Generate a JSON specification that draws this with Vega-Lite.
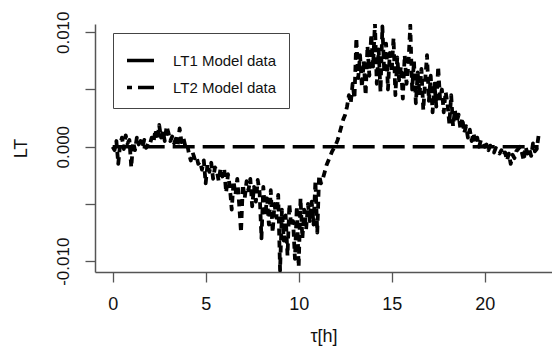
{
  "$schema": "https://vega.github.io/schema/vega-lite/v6.json",
  "width": 457,
  "height": 248,
  "autosize": {"type": "none"},
  "padding": {"left": 95, "top": 24, "right": 0, "bottom": 82},
  "background": "white",
  "config": {
    "view": {"stroke": null},
    "font": "Liberation Sans",
    "axis": {"grid": false, "domainColor": "#555", "tickColor": "#555", "labelColor": "#111", "titleColor": "#111", "titleFontWeight": "normal"}
  },
  "datasets": {
    "lt1": [{"t": 0, "v": 0}, {"t": 22.9, "v": 0}],
    "lt2": [
      {"t":0.0,"v":0},{"t":0.1,"v":-0.0003},{"t":0.2,"v":0.0005},{"t":0.3,"v":-0.0015},{"t":0.4,"v":0.0002},{"t":0.5,"v":0.0008},{"t":0.6,"v":-0.0002},{"t":0.7,"v":0.001},{"t":0.8,"v":0.0003},{"t":0.9,"v":0.0006},
      {"t":1.0,"v":-0.0018},{"t":1.1,"v":0.0004},{"t":1.2,"v":-0.0003},{"t":1.3,"v":0.0008},{"t":1.4,"v":0.0002},{"t":1.5,"v":0.0005},{"t":1.6,"v":0},{"t":1.7,"v":0.0006},{"t":1.8,"v":-0.0001},{"t":1.9,"v":0.0003},
      {"t":2.0,"v":0.0002},{"t":2.1,"v":0.0008},{"t":2.2,"v":0.0004},{"t":2.3,"v":0.0015},{"t":2.4,"v":0.0006},{"t":2.5,"v":0.0019},{"t":2.6,"v":0.0008},{"t":2.7,"v":0.0014},{"t":2.8,"v":0.0005},{"t":2.9,"v":0.0018},
      {"t":3.0,"v":0.0012},{"t":3.1,"v":0.0005},{"t":3.2,"v":0.0009},{"t":3.3,"v":0.0003},{"t":3.4,"v":0.0007},{"t":3.5,"v":0.0002},{"t":3.6,"v":0.0016},{"t":3.7,"v":0.0004},{"t":3.8,"v":0.0008},{"t":3.9,"v":0.0001},
      {"t":4.0,"v":0.0003},{"t":4.1,"v":-0.0006},{"t":4.2,"v":-0.0012},{"t":4.3,"v":-0.0005},{"t":4.4,"v":-0.001},{"t":4.5,"v":-0.0008},{"t":4.6,"v":-0.0015},{"t":4.7,"v":-0.0013},{"t":4.8,"v":-0.002},{"t":4.9,"v":-0.0012},
      {"t":5.0,"v":-0.0032},{"t":5.1,"v":-0.0015},{"t":5.2,"v":-0.0022},{"t":5.3,"v":-0.0014},{"t":5.4,"v":-0.0028},{"t":5.5,"v":-0.0018},{"t":5.6,"v":-0.0021},{"t":5.7,"v":-0.003},{"t":5.8,"v":-0.0019},{"t":5.9,"v":-0.0026},
      {"t":6.0,"v":-0.002},{"t":6.1,"v":-0.004},{"t":6.2,"v":-0.0024},{"t":6.3,"v":-0.0035},{"t":6.4,"v":-0.0055},{"t":6.5,"v":-0.003},{"t":6.6,"v":-0.0042},{"t":6.7,"v":-0.0028},{"t":6.8,"v":-0.005},{"t":6.9,"v":-0.0075},
      {"t":7.0,"v":-0.0033},{"t":7.1,"v":-0.0045},{"t":7.2,"v":-0.003},{"t":7.3,"v":-0.0038},{"t":7.4,"v":-0.0028},{"t":7.5,"v":-0.0052},{"t":7.6,"v":-0.0035},{"t":7.7,"v":-0.0048},{"t":7.8,"v":-0.0029},{"t":7.9,"v":-0.004},
      {"t":8.0,"v":-0.008},{"t":8.1,"v":-0.0035},{"t":8.2,"v":-0.006},{"t":8.3,"v":-0.0045},{"t":8.4,"v":-0.0068},{"t":8.5,"v":-0.0038},{"t":8.6,"v":-0.0075},{"t":8.7,"v":-0.005},{"t":8.8,"v":-0.0062},{"t":8.9,"v":-0.0042},
      {"t":9.0,"v":-0.0108},{"t":9.1,"v":-0.0055},{"t":9.2,"v":-0.0082},{"t":9.3,"v":-0.006},{"t":9.4,"v":-0.0095},{"t":9.5,"v":-0.005},{"t":9.6,"v":-0.007},{"t":9.7,"v":-0.0065},{"t":9.8,"v":-0.0098},{"t":9.9,"v":-0.0052},
      {"t":10.0,"v":-0.0105},{"t":10.1,"v":-0.0045},{"t":10.2,"v":-0.008},{"t":10.3,"v":-0.0055},{"t":10.4,"v":-0.0072},{"t":10.5,"v":-0.005},{"t":10.6,"v":-0.0065},{"t":10.7,"v":-0.0048},{"t":10.8,"v":-0.0068},{"t":10.9,"v":-0.003},
      {"t":11.0,"v":-0.0075},{"t":11.1,"v":-0.0025},{"t":11.2,"v":-0.0032},{"t":11.3,"v":-0.0028},{"t":11.4,"v":-0.0022},{"t":11.5,"v":-0.0016},{"t":11.6,"v":-0.0012},{"t":11.7,"v":-0.0008},{"t":11.8,"v":-0.0004},{"t":11.9,"v":-0.0001},
      {"t":12.0,"v":0.0002},{"t":12.1,"v":0.0006},{"t":12.2,"v":0.0012},{"t":12.3,"v":0.0018},{"t":12.4,"v":0.0024},{"t":12.5,"v":0.0028},{"t":12.6,"v":0.0035},{"t":12.7,"v":0.0045},{"t":12.8,"v":0.0038},{"t":12.9,"v":0.0055},
      {"t":13.0,"v":0.0042},{"t":13.1,"v":0.0095},{"t":13.2,"v":0.006},{"t":13.3,"v":0.008},{"t":13.4,"v":0.0052},{"t":13.5,"v":0.0075},{"t":13.6,"v":0.0045},{"t":13.7,"v":0.0088},{"t":13.8,"v":0.0062},{"t":13.9,"v":0.0098},
      {"t":14.0,"v":0.007},{"t":14.1,"v":0.0108},{"t":14.2,"v":0.0055},{"t":14.3,"v":0.0085},{"t":14.4,"v":0.0048},{"t":14.5,"v":0.0105},{"t":14.6,"v":0.0065},{"t":14.7,"v":0.009},{"t":14.8,"v":0.005},{"t":14.9,"v":0.0082},
      {"t":15.0,"v":0.0065},{"t":15.1,"v":0.0095},{"t":15.2,"v":0.0045},{"t":15.3,"v":0.0078},{"t":15.4,"v":0.0058},{"t":15.5,"v":0.007},{"t":15.6,"v":0.0042},{"t":15.7,"v":0.008},{"t":15.8,"v":0.0055},{"t":15.9,"v":0.0072},
      {"t":16.0,"v":0.0106},{"t":16.1,"v":0.005},{"t":16.2,"v":0.0075},{"t":16.3,"v":0.0038},{"t":16.4,"v":0.0065},{"t":16.5,"v":0.0045},{"t":16.6,"v":0.0068},{"t":16.7,"v":0.0032},{"t":16.8,"v":0.0058},{"t":16.9,"v":0.008},
      {"t":17.0,"v":0.004},{"t":17.1,"v":0.0062},{"t":17.2,"v":0.003},{"t":17.3,"v":0.0055},{"t":17.4,"v":0.0035},{"t":17.5,"v":0.007},{"t":17.6,"v":0.0042},{"t":17.7,"v":0.005},{"t":17.8,"v":0.003},{"t":17.9,"v":0.0048},
      {"t":18.0,"v":0.0038},{"t":18.1,"v":0.002},{"t":18.2,"v":0.0045},{"t":18.3,"v":0.0018},{"t":18.4,"v":0.0032},{"t":18.5,"v":0.0022},{"t":18.6,"v":0.0028},{"t":18.7,"v":0.0015},{"t":18.8,"v":0.0025},{"t":18.9,"v":0.0012},
      {"t":19.0,"v":0.0018},{"t":19.1,"v":0.0008},{"t":19.2,"v":0.0015},{"t":19.3,"v":0.0005},{"t":19.4,"v":0.0012},{"t":19.5,"v":0.0003},{"t":19.6,"v":0.0008},{"t":19.7,"v":0},{"t":19.8,"v":0.0006},{"t":19.9,"v":0.0002},
      {"t":20.0,"v":0},{"t":20.1,"v":0.0002},{"t":20.2,"v":-0.0003},{"t":20.3,"v":0.0001},{"t":20.4,"v":-0.0002},{"t":20.5,"v":-0.0005},{"t":20.6,"v":-0.0001},{"t":20.7,"v":-0.0004},{"t":20.8,"v":-0.0006},{"t":20.9,"v":-0.0003},
      {"t":21.0,"v":-0.0008},{"t":21.1,"v":-0.0005},{"t":21.2,"v":-0.0012},{"t":21.3,"v":-0.0006},{"t":21.4,"v":-0.0015},{"t":21.5,"v":-0.0007},{"t":21.6,"v":-0.001},{"t":21.7,"v":-0.0004},{"t":21.8,"v":-0.0002},{"t":21.9,"v":0},
      {"t":22.0,"v":-0.0005},{"t":22.1,"v":-0.0012},{"t":22.2,"v":0},{"t":22.3,"v":-0.0006},{"t":22.4,"v":-0.0002},{"t":22.5,"v":-0.0008},{"t":22.6,"v":0.0003},{"t":22.7,"v":-0.0004},{"t":22.8,"v":-0.0002},{"t":22.9,"v":0.001}
    ]
  },
  "encoding": {
    "x": {
      "field": "t", "type": "quantitative",
      "scale": {"domain": [-0.95, 23.62], "nice": false, "zero": false},
      "axis": {"values": [0, 5, 10, 15, 20], "tickSize": 10, "tickWidth": 1.3, "domainWidth": 1.5, "labelFontSize": 18, "labelPadding": 13, "title": "τ[h]", "titleFontSize": 18, "titlePadding": 14}
    },
    "y": {
      "field": "v", "type": "quantitative",
      "scale": {"domain": [-0.01094, 0.01072], "nice": false, "zero": false},
      "axis": {"values": [-0.01, -0.005, 0, 0.005, 0.01], "format": ".3f", "labelExpr": "abs(datum.value) > 0.004 && abs(datum.value) < 0.006 ? '' : replace(datum.label, '−', '-')", "labelAngle": -90, "labelAlign": "center", "labelBaseline": "alphabetic", "labelFontSize": 17, "labelPadding": 17, "tickSize": 10, "tickWidth": 1.3, "domainWidth": 1.5, "title": "LT", "titleFontSize": 18, "titlePadding": 24}
    }
  },
  "layer": [
    {
      "data": {"name": "lt2"},
      "mark": {"type": "line", "color": "black", "strokeWidth": 3.8, "clip": true, "strokeCap": "butt", "strokeJoin": "round", "strokeDash": [7, 5]}
    },
    {
      "data": {"name": "lt1"},
      "mark": {"type": "line", "color": "black", "strokeWidth": 3.4, "clip": true, "strokeCap": "butt", "strokeDash": [22, 8]}
    },
    {
      "data": {"name": "lt1"},
      "transform": [{"filter": "datum.t < -5"}],
      "mark": {"type": "line", "color": "black", "strokeWidth": 3.5, "strokeCap": "butt"},
      "encoding": {
        "strokeDash": {
          "datum": "LT1 Model data",
          "scale": {"domain": ["LT1 Model data", "LT2 Model data"], "range": [[1, 0], [5, 6, 16, 6]]},
          "legend": {
            "title": null, "orient": "none", "legendX": 18, "legendY": 9,
            "strokeColor": "#444", "fillColor": "white", "padding": 12, "cornerRadius": 0,
            "symbolType": "stroke", "symbolSize": 729, "symbolStrokeWidth": 3.5, "symbolStrokeColor": "black",
            "labelFontSize": 15, "labelOffset": 17, "rowPadding": 3, "labelColor": "#111"
          }
        }
      }
    },
    {
      "mark": {"type": "rule", "color": "#777", "strokeWidth": 1.5},
      "encoding": {
        "y": {"datum": 0.01072}
      }
    }
  ]
}
